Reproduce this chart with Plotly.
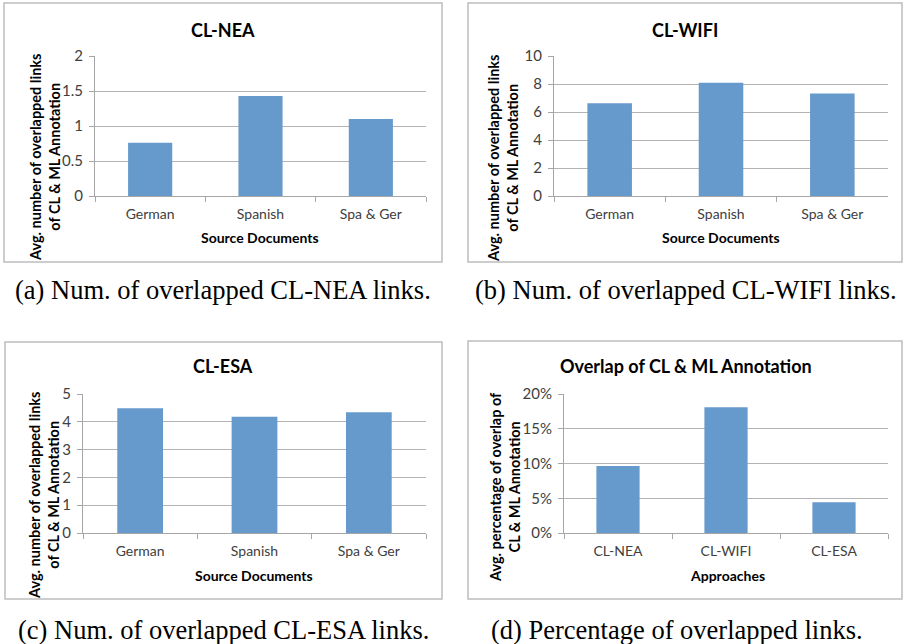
import plotly.graph_objects as go

W, H = 904, 644

# ---- data ----
sources = ["German", "Spanish", "Spa & Ger"]
nea_vals = [0.76, 1.43, 1.10]
wifi_vals = [6.62, 8.09, 7.33]
esa_vals = [4.49, 4.18, 4.34]
approaches = ["CL-NEA", "CL-WIFI", "CL-ESA"]
overlap_pct = [0.0964, 0.1808, 0.0441]

titles = ["CL-NEA", "CL-WIFI", "CL-ESA", "Overlap of CL & ML Annotation"]
ytitles = ["Avg. number of overlapped links<br>of CL & ML Annotation"] * 3 + \
          ["Avg. percentage of overlap of<br>CL & ML Annotation"]
xtitles = ["Source Documents", "Source Documents", "Source Documents", "Approaches"]
captions = ["(a) Num. of overlapped CL-NEA links.",
            "(b) Num. of overlapped CL-WIFI links.",
            "(c) Num. of overlapped CL-ESA links.",
            "(d) Percentage of overlapped links."]

BAR = "#6699cc"
GRID = "#b4b4b4"
AXL = "#a6a6a6"
FONT = "Lato"
TICKC = "#404040"

def px(x):
    return x / W

def py(y):
    return 1 - y / H

# plot areas in pixels: (x0, x1, ytop, ybottom)
areas = [(95, 426, 56, 196), (554, 888, 56, 196), (83, 426, 394, 533), (564, 888, 394, 533)]
boxes = [(4, 442, 3, 262), (468, 902, 3, 262), (5, 442, 342, 599), (468, 902, 341, 599)]
title_pos = [(223, 30), (685, 30), (223, 366), (686, 366)]
ytitle_pos = [(45, 158), (503, 158), (44, 496), (505, 487)]
xtitle_pos = [(260, 237), (721, 237), (254, 575), (727, 575)]
caption_pos = [(223, 290), (686, 290), (223, 630), (677, 630)]

series = [(sources, nea_vals), (sources, wifi_vals), (sources, esa_vals), (approaches, overlap_pct)]
yranges = [(0, 2, 0.5, None), (0, 10, 2, None), (0, 5, 1, None), (0, 0.2, 0.05, ".0%")]

fig = go.Figure()
layout = dict(width=W, height=H, margin=dict(l=0, r=0, t=0, b=0, pad=0, autoexpand=False),
              paper_bgcolor="white", plot_bgcolor="white",
              showlegend=False, bargap=0.6, font=dict(family=FONT, color=TICKC))

annotations = []
shapes = []
for i in range(4):
    sfx = "" if i == 0 else str(i + 1)
    cats, vals = series[i]
    fig.add_trace(go.Bar(x=cats, y=vals, marker=dict(color=BAR, line=dict(width=0)),
                         xaxis="x" + sfx, yaxis="y" + sfx, hoverinfo="skip"))
    x0, x1, yt, yb = areas[i]
    lo, hi, dt, fmt = yranges[i]
    layout["xaxis" + sfx] = dict(domain=[px(x0), px(x1)], anchor="y" + sfx,
                                 type="category", showline=True, linecolor=AXL, linewidth=1,
                                 ticks="outside", tickson="boundaries", ticklen=5, tickcolor=AXL,
                                 showgrid=False, automargin=False, ticklabelstandoff=5,
                                 tickfont=dict(size=14, color=TICKC, family=FONT),
                                 fixedrange=True)
    ya = dict(domain=[py(yb), py(yt)], anchor="x" + sfx, range=[lo, hi], dtick=dt, tick0=0,
              showline=True, linecolor=AXL, linewidth=1, ticks="outside", ticklen=5,
              tickcolor=AXL, showgrid=True, gridcolor=GRID, gridwidth=1, zeroline=False,
              tickfont=dict(size=15, color=TICKC, family=FONT), ticklabelstandoff=3,
              automargin=False, fixedrange=True)
    if fmt:
        ya["tickformat"] = fmt
    layout["yaxis" + sfx] = ya

    bx0, bx1, by0, by1 = boxes[i]
    shapes.append(dict(type="rect", xref="paper", yref="paper",
                       x0=px(bx0), x1=px(bx1), y0=py(by1), y1=py(by0),
                       line=dict(color="#bdbdbd", width=1.5)))
    tx, ty = title_pos[i]
    annotations.append(dict(text="<b>" + titles[i] + "</b>", x=px(tx), y=py(ty),
                            xref="paper", yref="paper", showarrow=False,
                            xanchor="center", yanchor="middle",
                            font=dict(size=18, color="black", family=FONT)))
    yx, yy = ytitle_pos[i]
    annotations.append(dict(text="<b>" + ytitles[i] + "</b>", x=px(yx), y=py(yy),
                            xref="paper", yref="paper", showarrow=False, textangle=-90,
                            xanchor="center", yanchor="middle",
                            font=dict(size=14.5, color="black", family=FONT)))
    xx, xy = xtitle_pos[i]
    annotations.append(dict(text="<b>" + xtitles[i] + "</b>", x=px(xx), y=py(xy),
                            xref="paper", yref="paper", showarrow=False,
                            xanchor="center", yanchor="middle",
                            font=dict(size=14, color="black", family=FONT)))
    cx, cy = caption_pos[i]
    annotations.append(dict(text=captions[i], x=px(cx), y=py(cy),
                            xref="paper", yref="paper", showarrow=False,
                            xanchor="center", yanchor="middle",
                            font=dict(size=26.5, color="black", family="Liberation Serif")))

layout["annotations"] = annotations
layout["shapes"] = shapes
fig.update_layout(**layout)
fig.write_html("out.html")
